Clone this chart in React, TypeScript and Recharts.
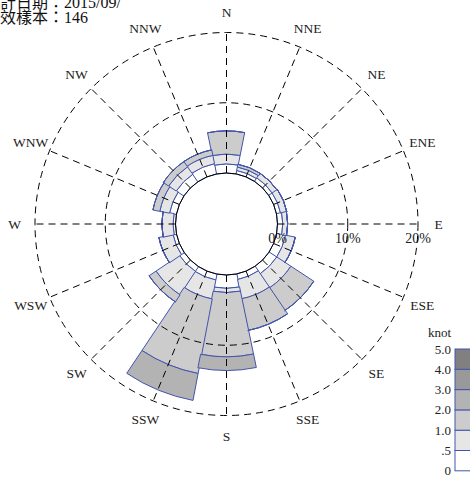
import {
  Legend,
  PolarAngleAxis,
  PolarGrid,
  PolarRadiusAxis,
  RadialBar,
  RadialBarChart,
} from "recharts";

const directions = [
  "N", "NNE", "NE", "ENE", "E", "ESE", "SE", "SSE",
  "S", "SSW", "SW", "WSW", "W", "WNW", "NW", "NNW",
];

// percent of samples per speed class (knot)
const speed0to05 = [1.3, 0.5, 0.6, 0.6, 0.75, 1.3, 1.3, 0.8, 1.9, 0.85, 0.8, 0.5, 0.35, 1.0, 1.3, 1.5];
const speed05to1 = [1.4, 0.5, 0.8, 0.9, 0.7, 1.4, 2.4, 2.8, 0.6, 2.75, 4.0, 2.05, 1.6, 1.4, 1.3, 1.2];
const speed1to2 = [3.3, 0.4, 0, 0, 0, 0, 3.9, 4.6, 9.15, 10.8, 1.2, 0, 0, 1.0, 0.9, 0.8];
const speed2to3 = [0, 0, 0, 0, 0, 0, 0, 0, 1.95, 3.9, 0, 0, 0, 0, 0, 0];

const radiusTicks = [0, 10, 20];
const speedLabels = ["0", ".5", "1.0", "2.0", "3.0", "4.0", "5.0"];
const speedColors = ["#ffffff", "#e6e6e6", "#cccccc", "#b3b3b3", "#999999", "#808080"];

const data = directions.map((dir, i) => ({
  dir,
  c0: speed0to05[i],
  c1: speed05to1[i],
  c2: speed1to2[i],
  c3: speed2to3[i],
}));

const W = 470;
const H = 479;
const CX = 226.5;
const CY = 224;
const INNER = 51;
const OUTER = 191.5;
const LABEL_R = 212;
const MAX = 20;
const STEP = 360 / directions.length;
// recharts puts each band's sector on the counter-clockwise side of its start
const START = 90 - STEP / 2;
const END = START - 360;
const serif = "'Liberation Serif', 'Times New Roman', serif";
const stroke = "#4455aa";

const gridRadii = radiusTicks.filter((t) => t > 0).map((t) => INNER + ((OUTER - INNER) * t) / MAX);
const spokeAngles = directions.map((_, i) => 90 - i * STEP);

const DirTick = (props: any) => {
  const a = (spokeAngles[props.index] * Math.PI) / 180;
  return (
    <text
      x={CX + LABEL_R * Math.cos(a)}
      y={CY - LABEL_R * Math.sin(a)}
      textAnchor="middle"
      dominantBaseline="central"
      fontFamily={serif}
      fontSize={13.5}
      fill="#222"
    >
      {props.payload.value}
    </text>
  );
};

const PctTick = (props: any) => (
  <text x={props.x} y={props.y + 19} textAnchor="middle" fontFamily={serif} fontSize={14} fill="#222">
    {props.payload.value}%
  </text>
);

const SpeedLegend = () => {
  const top = 29;
  const step = 20.3;
  const n = speedColors.length;
  return (
    <svg width={60} height={160} style={{ overflow: "visible" }}>
      <text x={31} y={17} textAnchor="end" fontFamily={serif} fontSize={13} fill="#222">
        knot
      </text>
      {speedColors.map((c, i) => (
        <rect
          key={c}
          x={35}
          y={top + (n - 1 - i) * step}
          width={20}
          height={step}
          fill={c}
          stroke={stroke}
          strokeWidth={1}
        />
      ))}
      {speedLabels.map((l, i) => (
        <text
          key={l}
          x={31}
          y={top + (n - i) * step}
          textAnchor="end"
          dominantBaseline="central"
          fontFamily={serif}
          fontSize={13}
          fill="#222"
        >
          {l}
        </text>
      ))}
    </svg>
  );
};

export default function App() {
  const chartProps = {
    width: W,
    height: H,
    data,
    cx: CX,
    cy: CY,
    innerRadius: INNER,
    outerRadius: OUTER,
    startAngle: START,
    endAngle: END,
    barCategoryGap: 0,
    barGap: 0,
    margin: { top: 0, right: 0, bottom: 0, left: 0 },
  };
  return (
    <div style={{ position: "absolute", left: 0, top: 0, width: W, height: H, overflow: "hidden", background: "#fff" }}>
      <div style={{ position: "absolute", left: 0, top: 0 }}>
        <RadialBarChart {...chartProps} layout="centric">
          <PolarAngleAxis dataKey="dir" type="category" axisLine={false} tickLine={false} tick={DirTick} />
          <PolarRadiusAxis
            type="number"
            angle={0}
            domain={[0, MAX]}
            ticks={radiusTicks}
            axisLine={false}
            tickLine={false}
            tick={PctTick}
          />
          {["c0", "c1", "c2", "c3"].map((k, i) => (
            <RadialBar
              key={k}
              dataKey={k}
              stackId="speed"
              fill={speedColors[i]}
              stroke={stroke}
              strokeWidth={1}
              isAnimationActive={false}
            />
          ))}
          <Legend
            content={SpeedLegend}
            wrapperStyle={{ position: "absolute", left: 420, top: 320, width: 60 }}
          />
        </RadialBarChart>
      </div>
      <div style={{ position: "absolute", left: 0, top: 0, pointerEvents: "none" }}>
        <RadialBarChart {...chartProps} layout="centric">
          <PolarGrid
            gridType="circle"
            polarAngles={spokeAngles}
            polarRadius={gridRadii}
            stroke="#000"
            strokeDasharray="7 5"
          />
          <PolarGrid gridType="circle" polarAngles={[]} polarRadius={[INNER]} stroke="#000" strokeWidth={1} />
        </RadialBarChart>
      </div>
      <div
        style={{
          position: "absolute",
          left: -16,
          top: -5,
          fontFamily: "'Liberation Serif', 'Noto Sans CJK TC', serif",
          fontSize: 16,
          lineHeight: "15px",
          color: "#111",
          whiteSpace: "nowrap",
        }}
      >
        <div>統計日期：2015/09/</div>
        <div>有效樣本：146</div>
      </div>
    </div>
  );
}
